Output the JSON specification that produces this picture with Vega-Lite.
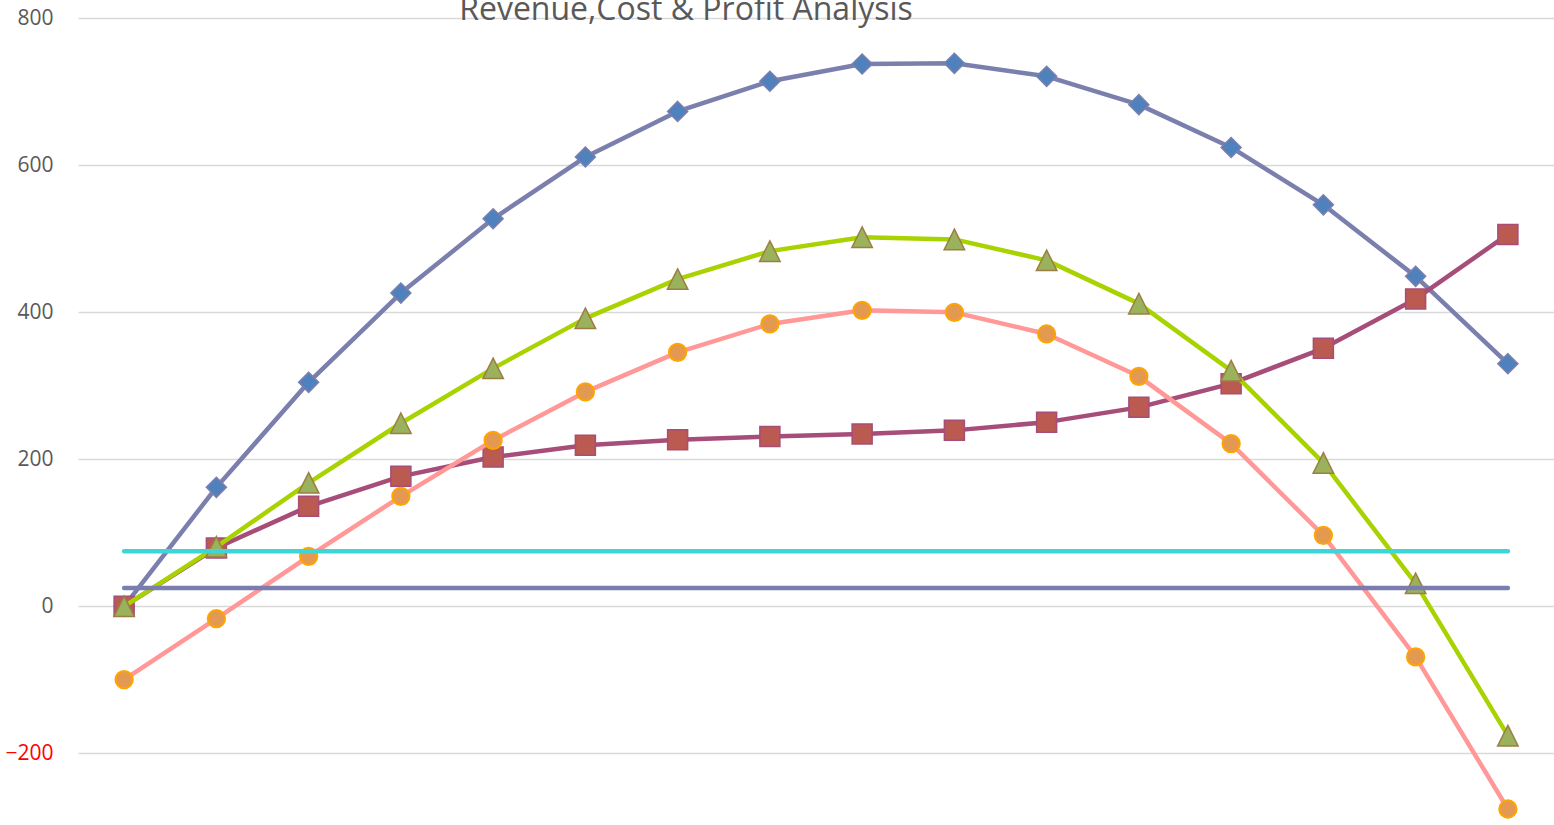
{
  "$schema": "https://vega.github.io/schema/vega-lite/v6.json",
  "width": 1476,
  "height": 825,
  "autosize": {"type": "none"},
  "padding": {"left": 78, "top": 0, "right": 0, "bottom": 0},
  "background": "white",
  "config": {"view": {"stroke": null}},
  "title": {
    "text": "Revenue,Cost & Profit Analysis",
    "anchor": "middle",
    "frame": "group",
    "orient": "top",
    "offset": 0,
    "dx": -130,
    "dy": 52,
    "baseline": "alphabetic",
    "fontSize": 32,
    "font": "Open Sans",
    "fontWeight": "normal",
    "color": "#595959"
  },
  "datasets": {
    "revenue": [
      {"x": 1, "value": 0}, {"x": 2, "value": 161.8}, {"x": 3, "value": 304.6}, {"x": 4, "value": 426},
      {"x": 5, "value": 527}, {"x": 6, "value": 611}, {"x": 7, "value": 673}, {"x": 8, "value": 714},
      {"x": 9, "value": 737.5}, {"x": 10, "value": 738.4}, {"x": 11, "value": 720.7}, {"x": 12, "value": 682.2},
      {"x": 13, "value": 624}, {"x": 14, "value": 546}, {"x": 15, "value": 448.7}, {"x": 16, "value": 330}
    ],
    "cost": [
      {"x": 1, "value": 0}, {"x": 2, "value": 79.4}, {"x": 3, "value": 136}, {"x": 4, "value": 176.8},
      {"x": 5, "value": 203}, {"x": 6, "value": 219}, {"x": 7, "value": 226.7}, {"x": 8, "value": 231},
      {"x": 9, "value": 234.4}, {"x": 10, "value": 239.3}, {"x": 11, "value": 250.5}, {"x": 12, "value": 270.6},
      {"x": 13, "value": 302.8}, {"x": 14, "value": 350.9}, {"x": 15, "value": 418}, {"x": 16, "value": 505.8}
    ],
    "profit": [
      {"x": 1, "value": 0}, {"x": 2, "value": 81}, {"x": 3, "value": 168}, {"x": 4, "value": 249},
      {"x": 5, "value": 323.6}, {"x": 6, "value": 391.6}, {"x": 7, "value": 445}, {"x": 8, "value": 483},
      {"x": 9, "value": 502}, {"x": 10, "value": 499}, {"x": 11, "value": 470.5}, {"x": 12, "value": 411.6},
      {"x": 13, "value": 320.5}, {"x": 14, "value": 195}, {"x": 15, "value": 31.3}, {"x": 16, "value": -175.8}
    ],
    "net": [
      {"x": 1, "value": -99.7}, {"x": 2, "value": -16.8}, {"x": 3, "value": 68}, {"x": 4, "value": 149.6},
      {"x": 5, "value": 225.7}, {"x": 6, "value": 291.6}, {"x": 7, "value": 345.4}, {"x": 8, "value": 384},
      {"x": 9, "value": 402.5}, {"x": 10, "value": 399.8}, {"x": 11, "value": 370.4}, {"x": 12, "value": 312.8},
      {"x": 13, "value": 221.2}, {"x": 14, "value": 96.6}, {"x": 15, "value": -68.8}, {"x": 16, "value": -275.5}
    ],
    "fixedA": [
      {"x": 1, "value": 75}, {"x": 2, "value": 75}, {"x": 3, "value": 75}, {"x": 4, "value": 75},
      {"x": 5, "value": 75}, {"x": 6, "value": 75}, {"x": 7, "value": 75}, {"x": 8, "value": 75},
      {"x": 9, "value": 75}, {"x": 10, "value": 75}, {"x": 11, "value": 75}, {"x": 12, "value": 75},
      {"x": 13, "value": 75}, {"x": 14, "value": 75}, {"x": 15, "value": 75}, {"x": 16, "value": 75}
    ],
    "fixedB": [
      {"x": 1, "value": 25}, {"x": 2, "value": 25}, {"x": 3, "value": 25}, {"x": 4, "value": 25},
      {"x": 5, "value": 25}, {"x": 6, "value": 25}, {"x": 7, "value": 25}, {"x": 8, "value": 25},
      {"x": 9, "value": 25}, {"x": 10, "value": 25}, {"x": 11, "value": 25}, {"x": 12, "value": 25},
      {"x": 13, "value": 25}, {"x": 14, "value": 25}, {"x": 15, "value": 25}, {"x": 16, "value": 25}
    ]
  },
  "encoding": {
    "x": {"field": "x", "type": "quantitative", "scale": {"domain": [0.5, 16.5], "nice": false, "zero": false}, "axis": null},
    "y": {
      "field": "value",
      "type": "quantitative",
      "scale": {"domain": [-297.3, 824.5], "nice": false, "zero": false},
      "axis": {
        "values": [-200, 0, 200, 400, 600, 800],
        "title": null,
        "grid": true,
        "gridColor": "#D9D9D9",
        "gridWidth": 1.3,
        "domain": false,
        "ticks": false,
        "labelPadding": 25,
        "labelFont": "Open Sans",
        "labelFontSize": 21,
        "labelColor": {"condition": {"test": "datum.value < 0", "value": "#FF0000"}, "value": "#595959"}
      }
    }
  },
  "layer": [
    {"data": {"name": "revenue"}, "mark": {"type": "line", "color": "#7A7FAE", "strokeWidth": 4.5, "strokeCap": "round", "strokeJoin": "round"}},
    {"data": {"name": "revenue"}, "mark": {"type": "point", "shape": "M0,-1L1,0L0,1L-1,0Z", "size": 400, "filled": true, "opacity": 1, "fill": "#4F81BD", "stroke": "#7A7FAE", "strokeWidth": 1.5}},
    {"data": {"name": "cost"}, "mark": {"type": "line", "color": "#A64D79", "strokeWidth": 4.5, "strokeCap": "round", "strokeJoin": "round"}},
    {"data": {"name": "cost"}, "mark": {"type": "point", "shape": "square", "size": 400, "filled": true, "opacity": 1, "fill": "#BA5A50", "stroke": "#A64D79", "strokeWidth": 1.5}},
    {"data": {"name": "profit"}, "mark": {"type": "line", "color": "#A8D300", "strokeWidth": 4.5, "strokeCap": "round", "strokeJoin": "round"}},
    {"data": {"name": "profit"}, "mark": {"type": "point", "shape": "M0,-1L1,1L-1,1Z", "size": 420, "filled": true, "opacity": 1, "fill": "#9BB25C", "stroke": "#9C7E45", "strokeWidth": 1.5}},
    {"data": {"name": "net"}, "mark": {"type": "line", "color": "#FF9896", "strokeWidth": 4.5, "strokeCap": "round", "strokeJoin": "round"}},
    {"data": {"name": "net"}, "mark": {"type": "point", "shape": "circle", "size": 300, "filled": true, "opacity": 1, "fill": "#E39A50", "stroke": "#FFA500", "strokeWidth": 2}},
    {"data": {"name": "fixedA"}, "mark": {"type": "line", "color": "#3DD5D5", "strokeWidth": 4.5, "strokeCap": "round", "strokeJoin": "round"}},
    {"data": {"name": "fixedB"}, "mark": {"type": "line", "color": "#7A7DAE", "strokeWidth": 4.5, "strokeCap": "round", "strokeJoin": "round"}}
  ]
}
